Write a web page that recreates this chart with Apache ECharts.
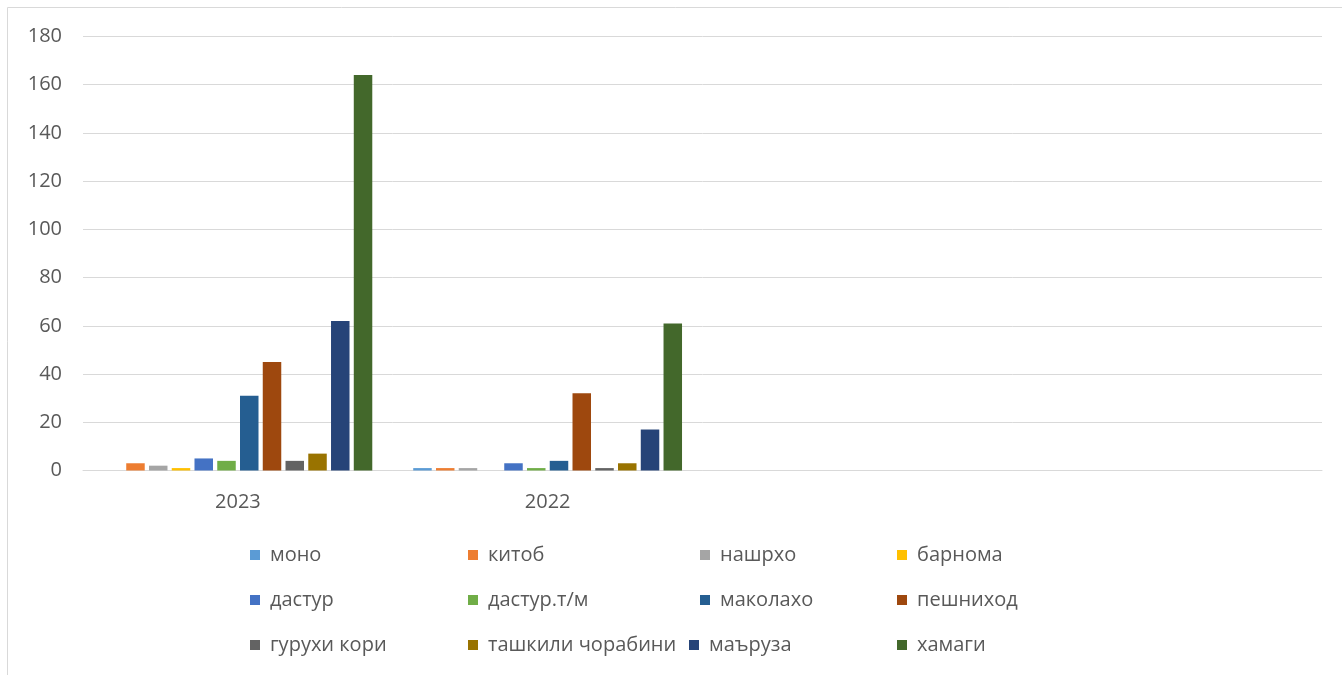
<!DOCTYPE html>
<html>
<head>
<meta charset="utf-8">
<script src="https://cdn.jsdelivr.net/npm/echarts@6/dist/echarts.min.js"></script>
<style>
html,body{margin:0;padding:0;background:#fff;}
#c{width:1342px;height:675px;}
</style>
</head>
<body>
<div id="c"></div>
<script>
const categories = ['2023', '2022', '', ''];
const seriesNames = ['моно','китоб','нашрхо','барнома','дастур','дастур.т/м','маколахо','пешниход','гурухи кори','ташкили чорабини','маъруза','хамаги'];
const mono = [0, 1];
const kitob = [3, 1];
const nashrho = [2, 1];
const barnoma = [1, 0];
const dastur = [5, 3];
const dasturTM = [4, 1];
const makolaho = [31, 4];
const peshnihod = [45, 32];
const guruhiKori = [4, 1];
const tashkili = [7, 3];
const maruza = [62, 17];
const hamagi = [164, 61];
const yTicks = [0, 20, 40, 60, 80, 100, 120, 140, 160, 180];

const values = [mono, kitob, nashrho, barnoma, dastur, dasturTM, makolaho, peshnihod, guruhiKori, tashkili, maruza, hamagi];
const colors = ['#5B9BD5','#ED7D31','#A5A5A5','#FFC000','#4472C4','#70AD47','#255E91','#9E480E','#636363','#997300','#264478','#43682B'];
const legendPos = [
  [250, 555], [468, 555], [700, 555], [897, 555],
  [250, 600], [468, 600], [700, 600], [897, 600],
  [250, 645], [468, 645], [689, 645], [897, 645]
];
const FONT = 'Open Sans';
const chart = echarts.init(document.getElementById('c'));
chart.setOption({
  animation: false,
  textStyle: {fontFamily: FONT},
  graphic: [{type: 'rect', shape: {x: 7.5, y: 7.5, width: 1400, height: 700}, style: {fill: 'none', stroke: '#d9d9d9', lineWidth: 1}, silent: true}],
  grid: {left: 83, right: 20, top: 36.5, bottom: 204.5, containLabel: false},
  legend: seriesNames.map((n, i) => ({
    data: [n], left: legendPos[i][0], top: legendPos[i][1] - 11,
    itemWidth: 10, itemHeight: 10, itemGap: 10, padding: 0,
    icon: 'rect',
    textStyle: {fontFamily: FONT, fontSize: 20, color: '#595959', lineHeight: 22, padding: [0,0,0,5]},
    selectedMode: false
  })),
  xAxis: {
    type: 'category', data: categories,
    axisLine: {lineStyle: {color: '#d9d9d9', width: 1}},
    axisTick: {show: false},
    axisLabel: {fontFamily: FONT, fontSize: 20, color: '#595959', margin: 22}
  },
  yAxis: {
    type: 'value', min: yTicks[0], max: yTicks[yTicks.length - 1], interval: 20,
    axisLine: {show: false}, axisTick: {show: false},
    splitLine: {lineStyle: {color: '#d9d9d9', width: 1}},
    axisLabel: {fontFamily: FONT, fontSize: 20, color: '#595959', margin: 21}
  },
  series: seriesNames.map((n, i) => ({
    name: n, type: 'bar', data: values[i],
    barWidth: 18.5, barGap: '23%',
    itemStyle: {color: colors[i]}
  }))
});
</script>
</body>
</html>
